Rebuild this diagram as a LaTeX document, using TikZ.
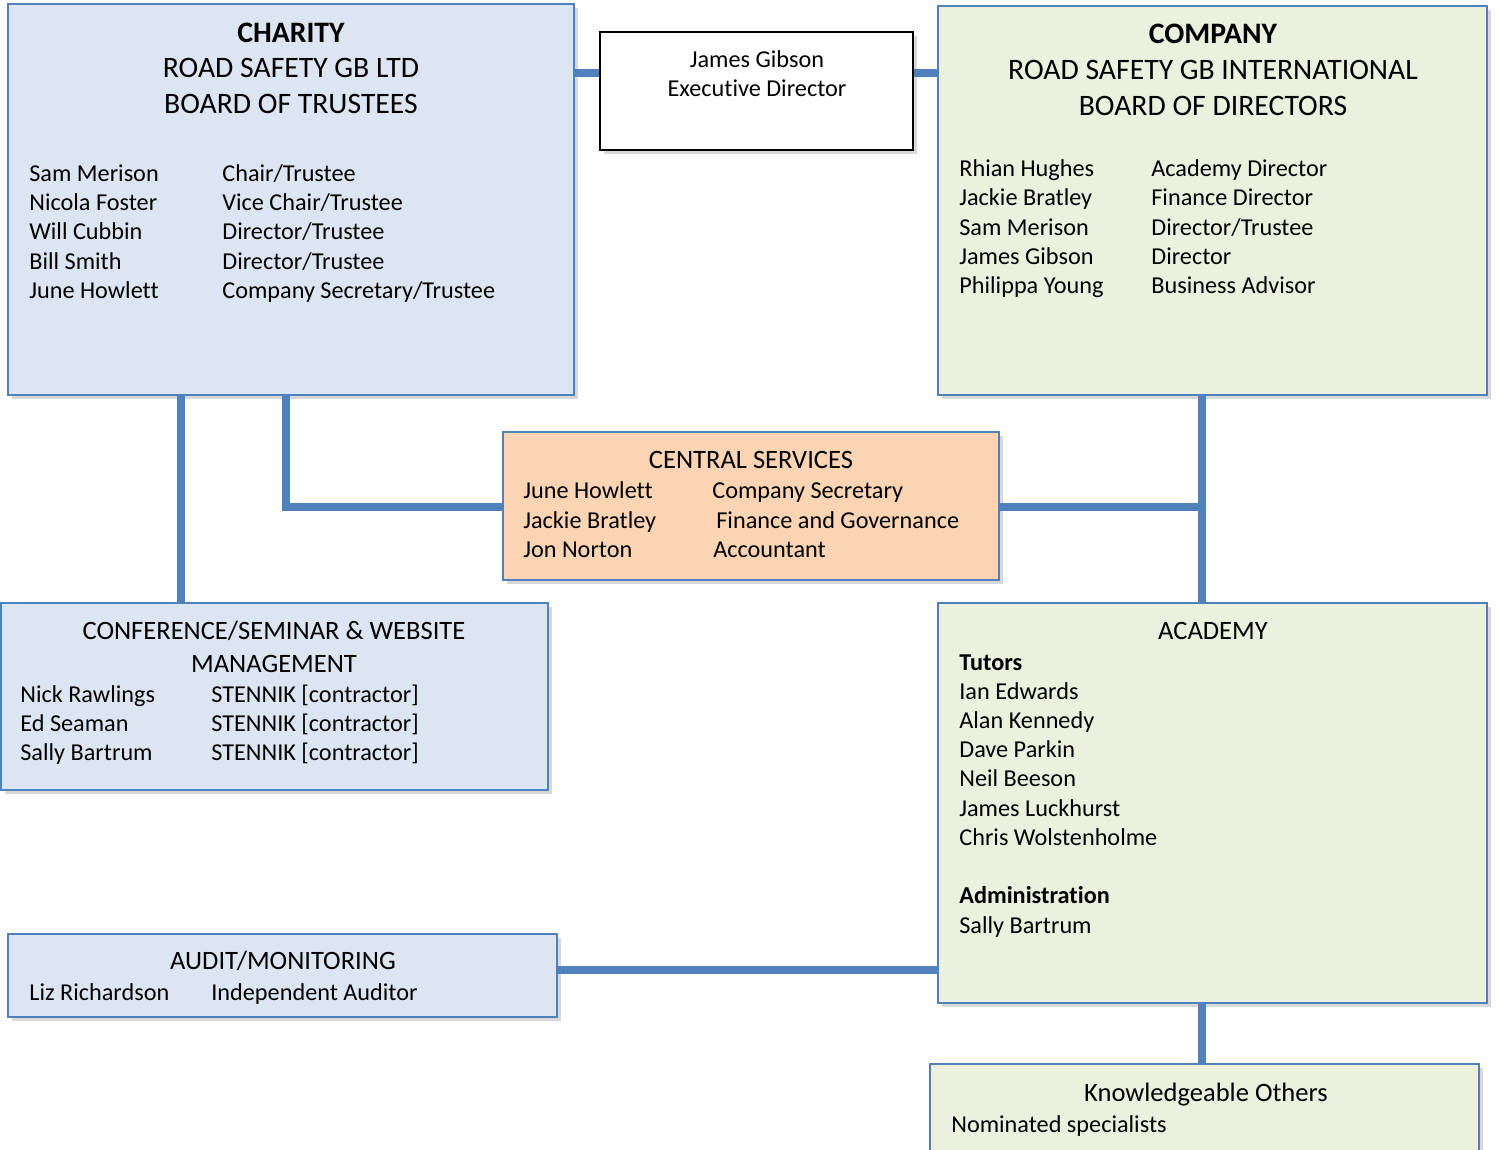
\documentclass[tikz,border=0pt]{standalone}
\usepackage{fontspec}
\setmainfont{Carlito}[Ligatures=NoCommon]
\usetikzlibrary{shadows}
\definecolor{bbord}{RGB}{79,129,189}
\definecolor{bfill}{RGB}{220,230,242}
\definecolor{gfill}{RGB}{235,241,222}
\definecolor{pfill}{RGB}{251,212,180}
\tikzset{
  boxbase/.style={rectangle, draw=bbord, line width=1.4pt, inner sep=0pt,
    drop shadow={shadow xshift=2.5pt, shadow yshift=-2.5pt, opacity=0.3}},
  bluebox/.style={boxbase, fill=bfill},
  greenbox/.style={boxbase, fill=gfill},
  peachbox/.style={boxbase, fill=pfill},
  whitebox/.style={rectangle, draw=black, line width=1.6pt, fill=white, inner sep=0pt,
    drop shadow={shadow xshift=2.5pt, shadow yshift=-2.5pt, opacity=0.3}},
  conn/.style={draw=bbord, line width=4pt},
  txt/.style={inner sep=0pt, yshift=-0.08cm, font=\fontsize{13.8}{16}\selectfont, anchor=mid west},
  ctxt/.style={inner sep=0pt, yshift=-0.08cm, font=\fontsize{13.8}{16}\selectfont, anchor=mid},
  htxt/.style={inner sep=0pt, yshift=-0.08cm, font=\fontsize{16.9}{20}\selectfont, anchor=mid},
  mtxt/.style={inner sep=0pt, yshift=-0.08cm, font=\fontsize{15.1}{18}\selectfont, anchor=mid},
  btxt/.style={txt, font=\fontsize{13.8}{16}\selectfont\bfseries},
}
\begin{document}
\begin{tikzpicture}[x=0.02cm,y=-0.02cm]
\clip (0,0) rectangle (1499,1150);
\fill[white] (0,0) rectangle (1499,1150);

% boxes
\node[bluebox, minimum width=11.32cm, minimum height=7.82cm] (charity) at (291,199.5) {};
\node[whitebox, minimum width=6.26cm, minimum height=2.36cm] (jg) at (756.5,91) {};
\node[greenbox, minimum width=10.98cm, minimum height=7.78cm] (company) at (1212.5,200.5) {};
\node[peachbox, minimum width=9.92cm, minimum height=2.96cm] (central) at (751,506) {};
\node[bluebox, minimum width=10.94cm, minimum height=3.74cm] (conf) at (274.5,696.5) {};
\node[greenbox, minimum width=10.98cm, minimum height=8.00cm] (academy) at (1212.5,803) {};
\node[bluebox, minimum width=10.98cm, minimum height=1.66cm] (audit) at (282.5,975.5) {};
\node[greenbox, minimum width=10.98cm, minimum height=1.92cm] (knowl) at (1204.5,1112) {};

% connector helper coordinates
\coordinate (ytop) at (0,73);
\coordinate (xconf) at (181,0);
\coordinate (xcent) at (286,0);
\coordinate (ycent) at (0,507);
\coordinate (xright) at (1202,0);
\coordinate (yaud) at (0,970);

% connectors
\draw[conn] (charity.east |- ytop) -- (jg.west |- ytop);
\draw[conn] (jg.east |- ytop) -- (company.west |- ytop);
\draw[conn] (charity.south -| xconf) -- (conf.north -| xconf);
\draw[conn] (charity.south -| xcent) -- (xcent |- ycent) -- (central.west |- ycent);
\draw[conn] (company.south -| xright) -- (academy.north -| xright);
\draw[conn] (central.east |- ycent) -- (xright |- ycent);
\draw[conn] (audit.east |- yaud) -- (academy.west |- yaud);
\draw[conn] (academy.south -| xright) -- (knowl.north -| xright);

% charity text
\node[htxt, font=\fontsize{16.9}{20}\selectfont\bfseries] (ch1) at (291,34) {CHARITY};
\node[htxt] (ch2) at (291,69) {ROAD SAFETY GB LTD};
\node[htxt] (ch3) at (291,105) {BOARD OF TRUSTEES};
\node[txt] (cn1) at (29,173) {Sam Merison};
\node[txt] (cn2) at (29,202) {Nicola Foster};
\node[txt] (cn3) at (29,231) {Will Cubbin};
\node[txt] (cn4) at (29,261) {Bill Smith};
\node[txt] (cn5) at (29,290) {June Howlett};
\node[txt] (cr1) at (222,173) {Chair/Trustee};
\node[txt] (cr2) at (222,202) {Vice Chair/Trustee};
\node[txt] (cr3) at (222,231) {Director/Trustee};
\node[txt] (cr4) at (222,261) {Director/Trustee};
\node[txt] (cr5) at (222,290) {Company Secretary/Trustee};

% james gibson
\node[ctxt] (jg1) at (757,59) {James Gibson};
\node[ctxt] (jg2) at (757,88) {Executive Director};

% company text
\node[htxt, font=\fontsize{16.9}{20}\selectfont\bfseries] (co1) at (1213,35) {COMPANY};
\node[htxt] (co2) at (1213,71) {ROAD SAFETY GB INTERNATIONAL};
\node[htxt] (co3) at (1213,107) {BOARD OF DIRECTORS};
\node[txt] (dn1) at (959,168) {Rhian Hughes};
\node[txt] (dn2) at (959,197) {Jackie Bratley};
\node[txt] (dn3) at (959,227) {Sam Merison};
\node[txt] (dn4) at (959,256) {James Gibson};
\node[txt] (dn5) at (959,285) {Philippa Young};
\node[txt] (dr1) at (1151,168) {Academy Director};
\node[txt] (dr2) at (1151,197) {Finance Director};
\node[txt] (dr3) at (1151,227) {Director/Trustee};
\node[txt] (dr4) at (1151,256) {Director};
\node[txt] (dr5) at (1151,285) {Business Advisor};

% central services
\node[mtxt] (cs0) at (751,460) {CENTRAL SERVICES};
\node[txt] (csn1) at (523,490) {June Howlett};
\node[txt] (csn2) at (523,520) {Jackie Bratley};
\node[txt] (csn3) at (523,549) {Jon Norton};
\node[txt] (csr1) at (712,490) {Company Secretary};
\node[txt] (csr2) at (716,520) {Finance and Governance};
\node[txt] (csr3) at (713,549) {Accountant};

% conference
\node[mtxt] (cf1) at (274,631) {CONFERENCE/SEMINAR \& WEBSITE};
\node[mtxt] (cf2) at (274,664) {MANAGEMENT};
\node[txt] (cfn1) at (20,694) {Nick Rawlings};
\node[txt] (cfn2) at (20,723) {Ed Seaman};
\node[txt] (cfn3) at (20,752) {Sally Bartrum};
\node[txt] (cfr1) at (211,694) {STENNIK [contractor]};
\node[txt] (cfr2) at (211,723) {STENNIK [contractor]};
\node[txt] (cfr3) at (211,752) {STENNIK [contractor]};

% academy
\node[mtxt] (ac0) at (1213,631) {ACADEMY};
\node[btxt] (ac1) at (959,662) {Tutors};
\node[txt] (ac2) at (959,691) {Ian Edwards};
\node[txt] (ac3) at (959,720) {Alan Kennedy};
\node[txt] (ac4) at (959,749) {Dave Parkin};
\node[txt] (ac5) at (959,778) {Neil Beeson};
\node[txt] (ac6) at (959,808) {James Luckhurst};
\node[txt] (ac7) at (959,837) {Chris Wolstenholme};
\node[btxt] (ac8) at (959,895) {Administration};
\node[txt] (ac9) at (959,925) {Sally Bartrum};

% audit
\node[mtxt] (au0) at (283,961) {AUDIT/MONITORING};
\node[txt] (au1) at (29,992) {Liz Richardson};
\node[txt] (au2) at (211,992) {Independent Auditor};

% knowledgeable
\node[mtxt] (kn0) at (1206,1093) {Knowledgeable Others};
\node[txt] (kn1) at (951,1124) {Nominated specialists};
\end{tikzpicture}
\end{document}
